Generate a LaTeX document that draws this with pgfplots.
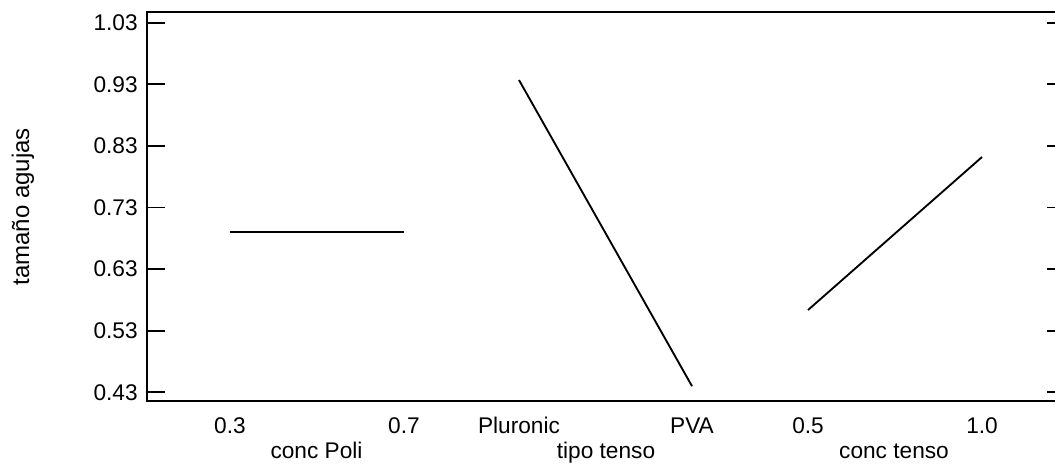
\documentclass[border=0pt]{standalone}
\usepackage{fontspec}
\setmainfont{Liberation Sans}
\usepackage{pgfplots}
\pgfplotsset{compat=1.18}
\begin{document}
\begin{tikzpicture}
\clip (-110.25pt,-48pt) rectangle (681pt,300.75pt);
\begin{axis}[
  scale only axis, width=688.5pt, height=291.5pt,
  at={(0,0)}, anchor=south west,
  xmin=147, xmax=1065, ymin=0.4159, ymax=1.0469,
  axis line style={line width=1.4pt},
  tick align=inside,
  major tick length=13.5pt,
  every tick/.style={line width=1.4pt, black},
  ytick={0.43,0.53,0.63,0.73,0.83,0.93,1.03},
  yticklabel style={xshift=-3.5pt, /pgf/number format/.cd, fixed, fixed zerofill, precision=2, assume math mode=true},
  ytick pos=both,
  xtick={230,404,519,692,808,982},
  xticklabels={0.3,0.7,Pluronic,PVA,0.5,1.0},
  xtick style={draw=none},
  xticklabel style={anchor=base, yshift=-24.2pt},
  extra x ticks={316.5,606,894},
  extra x tick labels={conc Poli,tipo tenso,conc tenso},
  extra x tick style={tick style={draw=none}, tick label style={anchor=base, yshift=-18.8pt}},
  tick label style={font=\fontsize{17}{20}\selectfont},
  label style={font=\fontsize{18}{21}\selectfont},
  ylabel={tamaño agujas},
  ylabel style={at={(axis description cs:-0.1351,0.5)}, anchor=center},
]
\addplot[black, line width=1.4pt] coordinates {(230,0.6897) (404,0.6897)};
\addplot[black, line width=1.4pt] coordinates {(519,0.937) (692,0.440)};
\addplot[black, line width=1.4pt] coordinates {(808,0.5636) (982,0.812)};
\end{axis}
\end{tikzpicture}
\end{document}
